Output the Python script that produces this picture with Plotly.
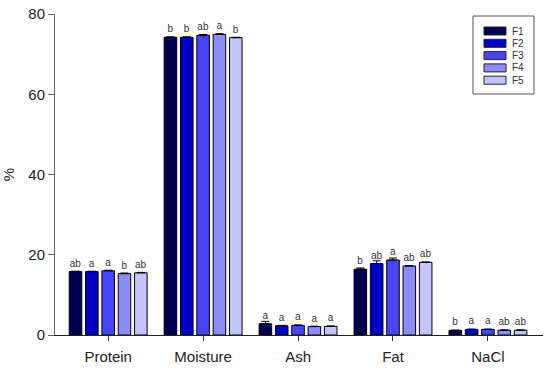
import plotly.graph_objects as go

categories = ["Protein", "Moisture", "Ash", "Fat", "NaCl"]
series_names = ["F1", "F2", "F3", "F4", "F5"]
colors = ["#000050", "#0000C8", "#4646FF", "#8C8CFF", "#C4C4FF"]

F1 = [15.8, 74.2, 2.8, 16.4, 1.15]
F2 = [15.8, 74.2, 2.3, 17.8, 1.4]
F3 = [16.0, 74.7, 2.4, 18.7, 1.4]
F4 = [15.3, 74.9, 2.1, 17.2, 1.2]
F5 = [15.5, 74.1, 2.15, 18.1, 1.2]
values = [F1, F2, F3, F4, F5]

err_F1 = [0.1, 0.1, 0.6, 0.3, 0.05]
err_F2 = [0.1, 0.1, 0.1, 0.7, 0.05]
err_F3 = [0.15, 0.2, 0.1, 0.5, 0.05]
err_F4 = [0.15, 0.2, 0.1, 0.1, 0.05]
err_F5 = [0.1, 0.1, 0.1, 0.1, 0.05]
errors = [err_F1, err_F2, err_F3, err_F4, err_F5]

lab_F1 = ["ab", "b", "a", "b", "b"]
lab_F2 = ["a", "b", "a", "ab", "a"]
lab_F3 = ["a", "ab", "a", "a", "a"]
lab_F4 = ["b", "a", "a", "ab", "ab"]
lab_F5 = ["ab", "b", "a", "ab", "ab"]
letters = [lab_F1, lab_F2, lab_F3, lab_F4, lab_F5]

font = "Arial, Liberation Sans, sans-serif"

W, H = 550, 370
ML, MR, MT, MB = 55, 7, 14, 35
PW, PH = W - ML - MR, H - MT - MB

fig = go.Figure()
for name, col, v, e, lab in zip(series_names, colors, values, errors, letters):
    fig.add_trace(go.Bar(
        name=name, x=categories, y=v,
        marker=dict(color=col, line=dict(color="black", width=1)),
        error_y=dict(type="data", array=e, symmetric=False, arrayminus=[0]*len(e),
                     color="black", thickness=1, width=4),
        text=lab, textposition="outside", constraintext="none",
        textfont=dict(size=10, color="#333333", family=font),
        cliponaxis=False, showlegend=False,
    ))

# custom legend (layout decoration) built from series names / colours
def px_x(p):
    return (p - ML) / PW

def px_y(p):
    return 1 - (p - MT) / PH

shapes = [dict(type="rect", xref="paper", yref="paper",
               x0=px_x(473), x1=px_x(534), y0=px_y(94), y1=px_y(16),
               line=dict(color="#555555", width=1), fillcolor="white")]
annotations = []
for i, (name, col) in enumerate(zip(series_names, colors)):
    cy = 31 + i * 12.3
    shapes.append(dict(type="rect", xref="paper", yref="paper",
                       x0=px_x(484), x1=px_x(506), y0=px_y(cy + 4), y1=px_y(cy - 4),
                       line=dict(color="#222222", width=1), fillcolor=col))
    annotations.append(dict(xref="paper", yref="paper", x=px_x(510), y=px_y(cy),
                            xanchor="left", yanchor="middle", text=name, showarrow=False,
                            font=dict(size=10, color="#333333", family=font)))

fig.update_layout(
    barmode="group", bargap=0.14, bargroupgap=0.23,
    width=W, height=H,
    margin=dict(l=ML, r=MR, t=MT, b=MB, autoexpand=False),
    plot_bgcolor="white", paper_bgcolor="white",
    font=dict(family=font, size=15, color="#222222"),
    showlegend=False,
    shapes=shapes, annotations=annotations,
)
fig.update_yaxes(range=[0, 80], tickvals=[0, 20, 40, 60, 80], ticks="outside",
                 ticklen=6, tickcolor="#666666", showline=True, linecolor="#666666",
                 linewidth=1, showgrid=False, zeroline=False, automargin=False,
                 title=dict(text="%", standoff=12, font=dict(size=15)),
                 tickfont=dict(size=15))
fig.update_xaxes(range=[-0.56, 4.58], ticks="outside", ticklen=5, tickcolor="#333333",
                 showline=True, linecolor="#222222", linewidth=1, showgrid=False,
                 automargin=False, tickfont=dict(size=15), ticklabelstandoff=3)

fig.write_html("out.html", config={"displayModeBar": False},
               post_script="document.body.style.margin='0';document.body.style.overflow='hidden';")
